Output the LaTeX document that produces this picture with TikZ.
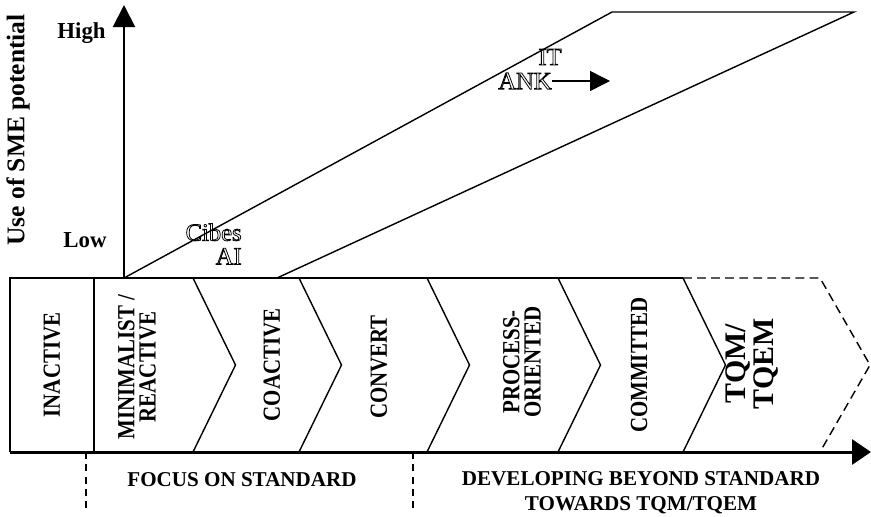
\documentclass[tikz,border=0pt]{standalone}
\usepackage{fontspec}
\setmainfont{Liberation Serif}
\newfontfamily\narrowfont[FakeStretch=0.85]{Liberation Serif}
\usetikzlibrary{arrows.meta}
% hollow (stroked) letters
\newcommand\hollow[1]{\special{pdf:literal direct 0.45 w 1 Tr}#1\special{pdf:literal direct 0 Tr}}
\tikzset{
  bline/.style={line width=0.8pt},
  dline/.style={line width=0.8pt, dash pattern=on 5pt off 3pt},
  yaxis/.style={line width=1.1pt, -{Triangle[length=0.44cm, width=0.44cm]}},
  xaxis/.style={line width=1.7pt, -{Triangle[length=0.38cm, width=0.5cm]}},
  marker/.style={line width=0.8pt, dash pattern=on 4pt off 3pt},
  stg/.style={rotate=90, align=center, inner sep=0pt, font=\narrowfont\bfseries\fontsize{14}{12}\selectfont},
  hilo/.style={anchor=east, inner sep=0pt, font=\bfseries\fontsize{13}{15}\selectfont},
  otl/.style={align=right, inner sep=0pt, font=\fontsize{14}{13.5}\selectfont},
  phase/.style={align=center, inner sep=0pt, font=\bfseries\fontsize{12}{14}\selectfont},
}
\begin{document}
\begin{tikzpicture}
  \useasboundingbox (0,0) rectangle (17.42,10.32);

  % --- axes ---
  \coordinate (org) at (2.48,4.76);
  \coordinate (ytop) at (2.48,10.22);
  \coordinate (xstart) at (0.2,1.28);
  \coordinate (xend) at (17.42,1.28);
  \node[rotate=90, inner sep=0pt, font=\bfseries\fontsize{14.5}{16}\selectfont] (ylab) at (0.36,7.72) {Use of SME potential};
  \node[hilo] (high) at (2.12,9.66) {High};
  \node[hilo] (low) at (2.14,5.52) {Low};

  % --- hollow labels ---
  \node[otl, anchor=east] (cibes) at (4.84,5.44) {\hollow{Cibes}\\\hollow{AI}};
  \node[otl] (it) at (11.0,9.18) {\hollow{IT}};
  \node[otl] (ank) at (10.5,8.7) {\hollow{ANK}};
  \coordinate (ankend) at (12.2,8.7);
  \draw[bline, -{Triangle[length=0.4cm, width=0.4cm]}] (ank.east) -- (ankend);

  % --- band of potential ---
  \draw[bline] (org) -- (12.24,10.08) -- (17.08,10.08) -- (5.54,4.76);

  % --- stages ---
  \draw[bline] (13.66,4.76) -- (0.2,4.76) -- (xstart);
  \draw[bline] (1.88,4.76) -- (1.88,1.28);
  \foreach \x in {3.86,5.98,8.54,11.16,13.66}
    \draw[bline] (\x,4.76) -- (\x+0.85,3.02) -- (\x,1.28);
  \draw[dline] (13.66,4.76) -- (16.4,4.76) -- (17.4,3.02) -- (16.4,1.28);

  \node[stg] (inactive) at (1.04,3.02) {INACTIVE};
  \node[stg] (minimal) at (2.74,2.98) {MINIMALIST /\\REACTIVE};
  \node[stg] (coactive) at (5.44,3.02) {COACTIVE};
  \node[stg] (convert) at (7.58,2.98) {CONVERT};
  \node[stg] (process) at (10.44,3.08) {PROCESS-\\ORIENTED};
  \node[stg] (committed) at (12.78,3.02) {COMMITTED};
  \node[stg, font=\bfseries\fontsize{17}{16}\selectfont] (tqm) at (15.04,3.04) {TQM/\\TQEM};

  \draw[yaxis] (org) -- (ytop);
  \draw[xaxis] (xstart) -- (xend);

  % --- phases ---
  \draw[marker] (1.72,1.28) -- (1.72,0.06);
  \draw[marker] (8.26,1.28) -- (8.26,0.06);
  \node[phase] (focus) at (4.84,0.72) {FOCUS ON STANDARD};
  \node[phase] (beyond) at (12.82,0.47) {DEVELOPING BEYOND STANDARD\\TOWARDS TQM/TQEM};
\end{tikzpicture}
\end{document}
